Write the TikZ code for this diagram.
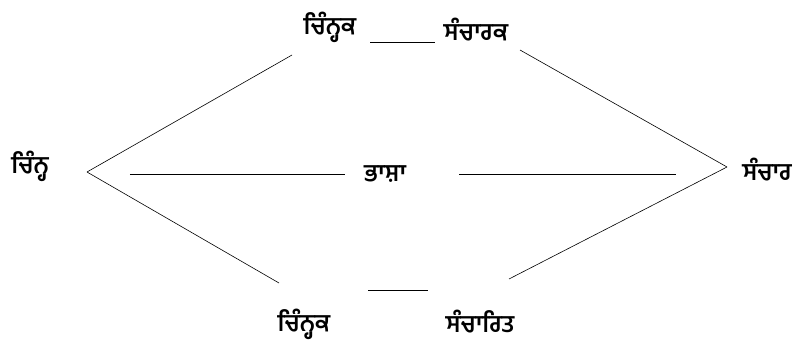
\documentclass[tikz,border=0pt]{standalone}
\usepackage{fontspec}
\newfontfamily\gurmukhi[Script=Gurmukhi]{Hind Jalandhar}
\usetikzlibrary{positioning}
\tikzstyle{word} = [inner sep=0pt,
font=\gurmukhi\bfseries\fontsize{24}{28}\selectfont]
\tikzstyle{link} = [line width=0.6pt]
\tikzstyle{bar} = [line width=1pt]

\begin{document}
\begin{tikzpicture}[x=1pt,y=-1pt]
\useasboundingbox (0,0) rectangle (797,345);
% words
\node (chinh) [word] at (30,166) {ਚਿੰਨ੍ਹ};
\node (ckTop) [word] at (330,27) {ਚਿੰਨ੍ਹਕ};
\node (sck) [word] at (476,30) {ਸੰਚਾਰਕ};
\node (bhasha) [word] at (385,174) {ਭਾਸ਼ਾ};
\node (sanchar) [word] at (767,170) {ਸੰਚਾਰ};
\node (ckBot) [word] at (304,324) {ਚਿੰਨ੍ਹਕ};
\node (scr) [word] at (480,322) {ਸੰਚਾਰਿਤ};
% line ends
\coordinate (lv) at (87,172);
\coordinate (rv) at (727,167);
\coordinate (lu) at (292,55);
\coordinate (ld) at (279,283);
\coordinate (ru) at (520,50);
\coordinate (rd) at (509,279);
\draw [link] (lv) -- (lu);
\draw [link] (lv) -- (ld);
\draw [link] (ru) -- (rv);
\draw [link] (rd) -- (rv);
% bars
\draw [bar, shorten <=81pt, shorten >=19pt] (bhasha.west -| chinh.east) -- (bhasha.west);
\draw [bar, shorten <=53pt, shorten >=66pt] (bhasha.east) -- (bhasha.east -| sanchar.west);
\draw [bar] (370,43) -- (435,43);
\draw [bar] (368,290) -- (428,290);
\end{tikzpicture}
\end{document}
